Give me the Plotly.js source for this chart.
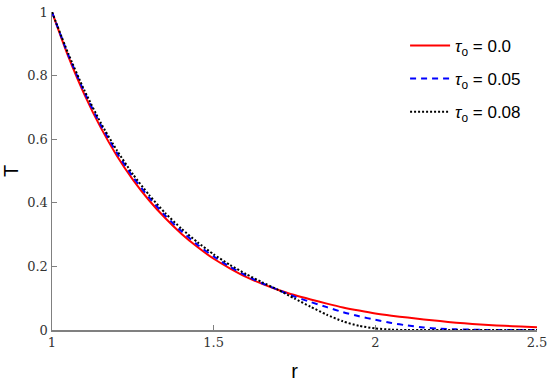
<!DOCTYPE html>
<html>
<head>
<meta charset="utf-8">
<script src="https://cdn.plot.ly/plotly-3.0.1.min.js"></script>
<style>html,body{margin:0;padding:0;background:#fff;}#chart{width:550px;height:386px;}</style>
</head>
<body>
<div id="chart"></div>
<script>
const r = [1.00,1.05,1.10,1.15,1.20,1.25,1.30,1.35,1.40,1.45,1.50,1.55,1.60,1.65,1.70,1.75,1.80,1.85,1.90,1.95,2.00,2.05,2.10,2.15,2.20,2.25,2.30,2.35,2.40,2.45,2.50];
const T_tau000 = [1.000,0.861,0.741,0.638,0.549,0.473,0.408,0.352,0.303,0.261,0.224,0.194,0.167,0.145,0.126,0.110,0.096,0.083,0.071,0.061,0.052,0.045,0.039,0.033,0.028,0.023,0.019,0.016,0.013,0.011,0.009];
const T_tau005 = [1.000,0.866,0.748,0.646,0.558,0.482,0.417,0.360,0.311,0.268,0.231,0.199,0.171,0.147,0.126,0.105,0.088,0.072,0.056,0.043,0.032,0.022,0.014,0.008,0.004,0.002,0.001,0.000,0.000,0.000,0.000];
const T_tau008 = [1.000,0.870,0.754,0.653,0.566,0.490,0.425,0.368,0.319,0.276,0.238,0.205,0.176,0.150,0.126,0.099,0.073,0.048,0.027,0.013,0.005,0.001,0.000,0.000,0.000,0.000,0.000,0.000,0.000,0.000,0.000];
const names = ['<i>τ</i><sub>o</sub> = 0.0','<i>τ</i><sub>o</sub> = 0.05','<i>τ</i><sub>o</sub> = 0.08'];
const xTicks = [1,1.5,2,2.5];
const xTickText = ['1','1.5','2','2.5'];
const yTicks = [0,0.2,0.4,0.6,0.8,1];
const yTickText = ['0','0.2','0.4','0.6','0.8','1'];

const traces = [
  {x:r, y:T_tau000, name:names[0], legendgroup:'a', mode:'lines', line:{color:'#ff0000', width:2, shape:'spline', smoothing:0.6}},
  {x:r, y:T_tau005, name:names[1], legendgroup:'b', mode:'lines', line:{color:'#0000ff', width:2, dash:'6px,5px', shape:'spline', smoothing:0.6}},
  {x:r, y:T_tau008, name:names[2], legendgroup:'c', mode:'lines', line:{color:'#000000', width:2, dash:'2px,2px', shape:'spline', smoothing:0.6}}
];
const tickFont = {family:'"DejaVu Serif","Liberation Serif",serif', size:13, color:'#333'};
const labFont = {family:'Liberation Sans, Arial, sans-serif', size:20, color:'#000'};
const layout = {
  width:550, height:386,
  margin:{l:52, r:13, t:11.5, b:55.5},
  paper_bgcolor:'#fff', plot_bgcolor:'#fff',
  showlegend:true,
  legend:{x:0.728, y:0.95, xanchor:'left', yanchor:'top', bgcolor:'rgba(255,255,255,0)',
          font:{family:'Liberation Sans, Arial, sans-serif', size:17, color:'#000'}, itemwidth:40, tracegroupgap:8},
  xaxis:{range:[1,2.5], tickvals:xTicks, ticktext:xTickText, ticks:'inside', ticklen:5, tickcolor:'#808080',
         showline:true, linecolor:'#808080', linewidth:1.5, showgrid:false, zeroline:false, tickfont:tickFont,
         title:{text:'r', font:labFont, standoff:15}},
  yaxis:{range:[0,1], tickvals:yTicks, ticktext:yTickText, ticks:'inside', ticklen:5, tickcolor:'#808080',
         showline:true, linecolor:'#808080', linewidth:1.5, showgrid:false, zeroline:false, tickfont:tickFont,
         title:{text:'T', font:labFont, standoff:13}}
};
Plotly.newPlot('chart', traces, layout, {displayModeBar:false, staticPlot:true});
</script>
</body>
</html>
